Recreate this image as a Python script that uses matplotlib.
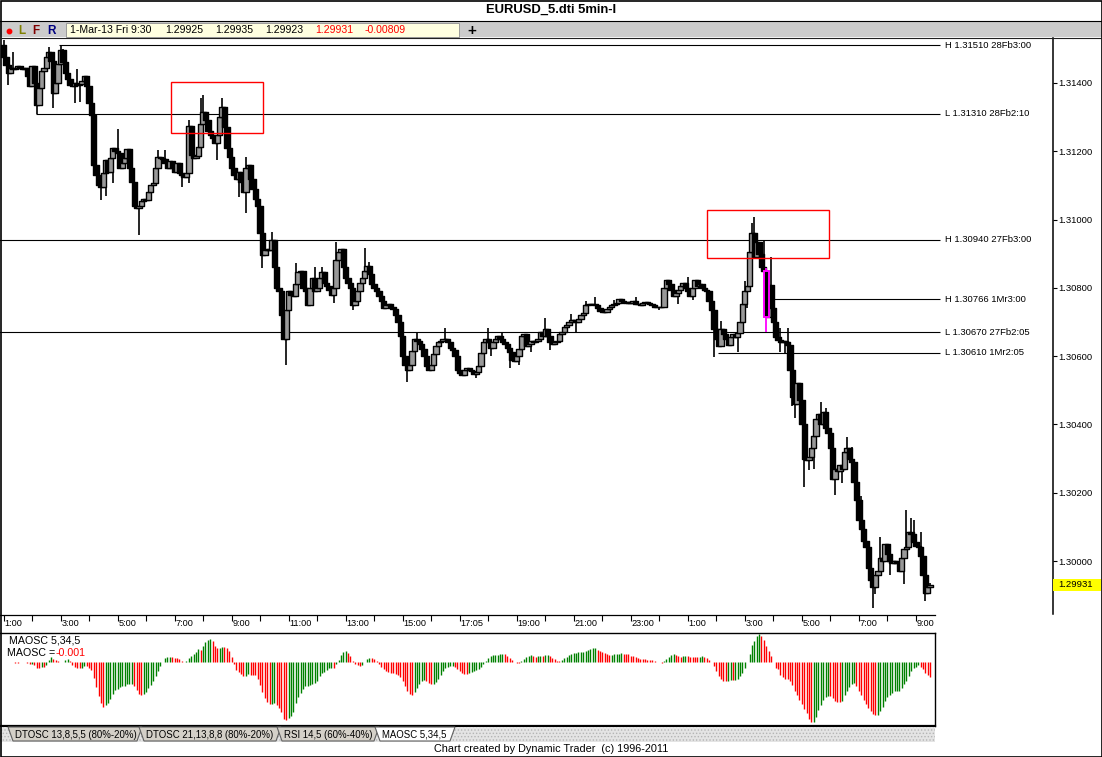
import numpy as np
import pandas as pd
import matplotlib
matplotlib.use("Agg")
import matplotlib.pyplot as plt
from matplotlib.patches import Rectangle, Polygon
from matplotlib.collections import LineCollection, PatchCollection
from matplotlib.ticker import FormatStrFormatter
import matplotlib.transforms as mtransforms

plt.rcParams['font.family'] = ['Liberation Sans', 'DejaVu Sans']
plt.rcParams['hatch.linewidth'] = 0.6

# ---- chart data ---------------------------------------------------------
# EURUSD 5 min closes in points above 1.30000 (1 pt = 0.00001),
# one row per hour, 28-Feb 1:00 .. 1-Mar 9:30
close_pts = [
    1476, 1452, 1430, 1443, 1440, 1445, 1450, 1445, 1440, 1445, 1420, 1390,  # 1:00
    1450, 1400, 1335, 1385, 1435, 1445, 1475, 1490, 1465, 1370, 1400, 1455,  # 2:00
    1495, 1460, 1430, 1410, 1395, 1390, 1400, 1395, 1398, 1405, 1420, 1390,  # 3:00
    1340, 1305, 1160, 1130, 1100, 1095, 1135, 1175, 1140, 1180, 1210, 1200,  # 4:00
    1195, 1150, 1165, 1180, 1205, 1150, 1110, 1040, 1035, 1040, 1055, 1060,  # 5:00
    1058, 1080, 1100, 1107, 1150, 1183, 1180, 1178, 1165, 1150, 1170, 1150,  # 6:00
    1140, 1165, 1136, 1130, 1124, 1136, 1274, 1190, 1180, 1185, 1212, 1280,  # 7:00
    1315, 1290, 1260, 1247, 1240, 1224, 1247, 1300, 1330, 1270, 1210, 1183,  # 8:00
    1150, 1130, 1120, 1140, 1110, 1080, 1150, 1160, 1120, 1090, 1060, 1040,  # 9:00
    960, 895, 910, 915, 912, 940, 860, 800, 790, 720, 650, 735,              # 10:00
    790, 780, 775, 810, 845, 850, 800, 790, 750, 800, 830, 790,              # 11:00
    800, 830, 845, 815, 805, 795, 780, 800, 880, 905, 915, 860,              # 12:00
    830, 815, 800, 750, 760, 790, 815, 830, 850, 865, 840, 810,              # 13:00
    800, 790, 775, 760, 740, 750, 752, 745, 738, 720, 700, 660,              # 14:00
    600, 575, 560, 575, 615, 650, 645, 635, 620, 600, 570, 560,              # 15:00
    575, 605, 630, 640, 645, 650, 650, 640, 625, 618, 600, 560,              # 16:00
    550, 545, 560, 565, 560, 555, 548, 552, 570, 610, 640, 650,              # 17:00
    640, 625, 640, 650, 660, 650, 640, 635, 625, 612, 590, 585,              # 18:00
    600, 620, 660, 665, 630, 635, 645, 640, 645, 650, 670, 660,              # 19:00
    680, 660, 640, 635, 640, 645, 665, 672, 685, 690, 700, 705,              # 20:00
    705, 700, 710, 720, 725, 750, 752, 752, 752, 750, 740, 732,              # 21:00
    728, 730, 738, 745, 750, 752, 755, 768, 762, 758, 755, 758,              # 22:00
    755, 760, 752, 752, 750, 755, 758, 755, 752, 750, 745, 744,              # 23:00
    744, 745, 800, 823, 810, 795, 775, 785, 795, 805, 814, 800,              # 0:00
    790, 776, 800, 823, 805, 810, 800, 795, 790, 760, 735, 680,              # 1:00
    650, 630, 680, 665, 650, 632, 655, 665, 655, 667, 700, 752,              # 2:00
    790, 805, 905, 960, 890, 935, 900, 860, 849, 714, 808, 741,              # 3:00
    700, 656, 647, 640, 645, 640, 632, 560, 480, 460, 520, 470,              # 4:00
    400, 300, 295, 305, 330, 365, 415, 430, 400, 435, 390, 375,              # 5:00
    330, 240, 270, 265, 280, 270, 320, 330, 300, 290, 230, 180,              # 6:00
    120, 95, 60, 40, -20, -56, -75, -40, -30, 10, 0, 50,                     # 7:00
    20, 0, -5, 0, -5, -30, 10, 35, 40, 85, 80, 55,                           # 8:00
    45, 40, 15, -40, -94, -75, -69,                                          # 9:00
]
first_open = 1510

# visible wick extremes (points), bar index -> value
high_pts = {0: 1525, 4: 1490, 19: 1506, 24: 1510, 25: 1500, 31: 1440, 48: 1265,
            65: 1203, 68: 1203, 78: 1292, 83: 1356, 84: 1364, 92: 1356, 102: 1183,
            113: 963, 123: 872, 131: 860, 134: 860, 140: 934, 152: 916, 154: 877,
            174: 667, 186: 682, 204: 682, 210: 672, 228: 711, 239: 723, 245: 762,
            249: 773, 257: 764, 266: 773, 288: 832, 302: 703, 312: 821, 315: 990,
            316: 1007, 320: 940, 321: 859, 323: 890, 327: 682, 330: 682, 344: 466,
            346: 447, 355: 363, 357: 335, 361: 190, 369: 70, 370: 18, 380: 149,
            382: 126, 383: 120, 386: 85, 390: -65}
low_pts = {2: 1394, 14: 1310, 21: 1326, 30: 1340, 32: 1345, 41: 1057, 43: 1070,
           46: 1107, 57: 955, 75: 1095, 78: 1107, 90: 1174, 99: 1066, 102: 1019,
           109: 858, 119: 574, 139: 755, 147: 735, 170: 524, 199: 536, 205: 600,
           213: 565, 217: 574, 222: 612, 230: 618, 241: 670, 276: 735, 284: 752,
           290: 764, 299: 598, 309: 612, 313: 740, 321: 670, 327: 612, 329: 605,
           332: 453, 333: 420, 337: 217, 339: 267, 341: 270, 350: 193, 353: 228,
           366: -138, 367: -98, 373: -40, 379: -68, 388: -116, 390: -77}

time_labels = ['1:00', '3:00', '5:00', '7:00', '9:00', '11:00', '13:00', '15:00',
               '17:05', '19:00', '21:00', '23:00', '1:00', '3:00', '5:00', '7:00', '9:00']

level_prices = [1.31510, 1.31310, 1.30940, 1.30766, 1.30670, 1.30610]
level_names = ['H 1.31510 28Fb3:00', 'L 1.31310 28Fb2:10', 'H 1.30940 27Fb3:00',
               'H 1.30766 1Mr3:00', 'L 1.30670 27Fb2:05', 'L 1.30610 1Mr2:05']
level_from = [23.5, 13.7, -2.0, 321.7, -2.0, 300.7]

box_bars = [(70.6, 109.1), (296.2, 347.3)]
box_prices = [(1.31252, 1.31402), (1.30886, 1.31028)]
marked_bar = 321
last_price = 1.29931
price_ticks = [1.30000, 1.30200, 1.30400, 1.30600, 1.30800, 1.31000, 1.31200, 1.31400]

header_date = '1-Mar-13 Fri 9:30'
header_ohl = ['1.29925', '1.29935', '1.29923']
header_red = ['1.29931', '-0.00809']
tab_names = ['DTOSC 13,8,5,5 (80%-20%)', 'DTOSC 21,13,8,8 (80%-20%)',
             'RSI 14,5 (60%-40%)', 'MAOSC 5,34,5']

# ---- layout (pixels) ----------------------------------------------------
W, H = 1102, 757
BAR_PX, BAR0_PX = 2.376, 3.5
PRICE_PX, Y_130 = 34150.0, 561.0


def bar_at(px):
    return (px - BAR0_PX) / BAR_PX


def price_at(py):
    return 1.30 + (Y_130 - py) / PRICE_PX


def fig_rect(x0, y0, x1, y1):
    return [x0 / W, 1 - y1 / H, (x1 - x0) / W, (y1 - y0) / H]


n = len(close_pts)
idx = np.arange(n)
close = np.array(close_pts, dtype=float)
opn = np.r_[first_open, close[:-1]]
high = np.array([max(opn[i], close[i], high_pts.get(i, -1e9)) for i in idx])
low = np.array([min(opn[i], close[i], low_pts.get(i, 1e9)) for i in idx])

to_price = lambda v: 1.30 + np.asarray(v) / 1e5

fig = plt.figure(figsize=(W / 100, H / 100), dpi=100)
fig.patch.set_facecolor('white')

# ---- price panel ----
ax = fig.add_axes(fig_rect(0, 38, 1053, 614))
ax.set_xlim(bar_at(0), bar_at(1053))
ax.set_ylim(price_at(614), price_at(38))
for s in ['left', 'top', 'bottom']:
    ax.spines[s].set_visible(False)
ax.spines['right'].set_linewidth(1.1)
ax.set_xticks([])
ax.yaxis.tick_right()
ax.set_yticks(price_ticks)
ax.yaxis.set_major_formatter(FormatStrFormatter('%.5f'))
ax.tick_params(axis='y', direction='out', length=3, width=0.8, pad=0.6, labelsize=6.8)

ax.hlines(level_prices, level_from, bar_at(940), colors='black', lw=0.8, zorder=1)
for p, name in zip(level_prices, level_names):
    ax.text(bar_at(945), p, name, va='center', ha='left', fontsize=6.8)

BODY_W = 2.25
segs, rects, faces = [], [], []
for i in idx:
    if i == marked_bar:
        continue
    if high[i] > low[i]:
        segs.append([(i, to_price(low[i])), (i, to_price(high[i]))])
    b0 = to_price(min(opn[i], close[i]))
    b1 = to_price(max(opn[i], close[i]))
    rects.append(Rectangle((i - BODY_W / 2, b0), BODY_W, b1 - b0))
    faces.append('#999999' if close[i] > opn[i] else 'black')
ax.add_collection(LineCollection(segs, colors='black', linewidths=1.2, zorder=2))
ax.add_collection(PatchCollection(rects, facecolors=faces, edgecolors='black',
                                  linewidths=1.0, zorder=3))

m = marked_bar
ax.vlines(m, to_price(low[m]), to_price(high[m]), colors='#ff00ff', lw=1.3, zorder=4)
ax.add_patch(Rectangle((m - BODY_W / 2, to_price(close[m])), BODY_W,
                       to_price(opn[m]) - to_price(close[m]),
                       fc='black', ec='#ff00ff', lw=1.4, zorder=5))

for (b0, b1), (p0, p1) in zip(box_bars, box_prices):
    ax.add_patch(Rectangle((b0, p0), b1 - b0, p1 - p0, fill=False, ec='red', lw=1.0, zorder=6))

trans = mtransforms.blended_transform_factory(ax.transAxes, ax.transData)
tag_h = 12 / PRICE_PX
ax.add_patch(Rectangle((1.0, last_price - tag_h / 2), 48 / 1053, tag_h, transform=trans,
                       fc='#ffff00', ec='none', clip_on=False, zorder=6))
ax.text(1.0 + 5 / 1053, last_price, '%.5f' % last_price, transform=trans,
        va='center', ha='left', fontsize=6.8, zorder=7)

# ---- time scale ----
tax = fig.add_axes(fig_rect(0, 615, 935, 633))
tax.set_xlim(bar_at(0), bar_at(935))
tax.set_ylim(0, 1)
for s in ['left', 'right', 'bottom']:
    tax.spines[s].set_visible(False)
tax.spines['top'].set_linewidth(0.9)
tax.xaxis.tick_top()
tax.set_xticks(np.arange(0, n, 12))
tax.tick_params(axis='x', direction='in', length=4, width=0.8, labeltop=False)
tax.set_yticks([])
for k, lab in enumerate(time_labels):
    tax.text(24 * k + 0.4, 0.5, lab, va='center', ha='left', fontsize=6.6)

# ---- MAOSC panel ----
pax = fig.add_axes(fig_rect(0, 633, 935, 726))
pax.set_xlim(bar_at(0), bar_at(935))
s = pd.Series(close) / 1e5
maosc = (s.rolling(5, min_periods=1).mean() - s.rolling(34, min_periods=1).mean()).values
rising = np.r_[True, np.diff(maosc) >= 0]
pax.vlines(idx, 0, maosc, colors=np.where(rising, '#008000', '#ff0000'), lw=1.0)
bottom = maosc.min() * 1.06
top = max(-bottom * 28.7 / 64.3, maosc.max() * 1.02)
pax.set_ylim(bottom, top)
pax.set_xticks([])
pax.set_yticks([])
pax.spines['left'].set_visible(False)
pax.spines['top'].set_linewidth(1.0)
pax.spines['right'].set_linewidth(1.0)
pax.spines['bottom'].set_linewidth(1.6)

# ---- window chrome ----
cax = fig.add_axes([0, 0, 1, 1], zorder=10)
cax.set_xlim(0, W)
cax.set_ylim(H, 0)
cax.axis('off')
cax.patch.set_alpha(0)

cax.text(551, 10, 'EURUSD_5.dti 5min-I', ha='center', va='center', fontsize=9.4,
         fontweight='bold')
cax.add_patch(Rectangle((0, 21), W, 16, fc='#cccccc', ec='none'))
cax.plot([0, W], [20.5, 20.5], color='black', lw=0.8)
cax.plot([0, W], [37.5, 37.5], color='#202020', lw=0.8)
cax.add_patch(Rectangle((66, 22.5), 393, 14, fc='#ffffe0', ec='#9a9a9a', lw=0.7))
cax.plot([9], [31], 'o', color='red', ms=3.2)
for x, ch, col in [(22, 'L', '#808000'), (36, 'F', '#800000'), (51, 'R', '#000080')]:
    cax.text(x, 30.5, ch, ha='center', va='center', fontsize=8.5, fontweight='bold', color=col)
cax.text(70, 30, header_date, va='center', ha='left', fontsize=7.6)
for x, t in zip([165, 215, 265], header_ohl):
    cax.text(x, 30, t, va='center', ha='left', fontsize=7.6)
for x, t in zip([315, 365], header_red):
    cax.text(x, 30, t, va='center', ha='left', fontsize=7.6, color='red')
cax.text(472, 30.5, '+', ha='center', va='center', fontsize=11, fontweight='bold')

cax.text(9, 640.5, 'MAOSC 5,34,5', va='center', ha='left', fontsize=7.7)
cax.text(7, 653.5, 'MAOSC =', va='center', ha='left', fontsize=7.7)
cax.text(56, 653.5, '-0.001', va='center', ha='left', fontsize=7.7, color='red')

cax.add_patch(Rectangle((0, 727), 935, 15, fc='#e4e4e4', ec='#b4b4b4', lw=0, hatch='.....'))
tab_x = [(8, 142), (139, 281), (277, 379), (375, 455)]
for k in [0, 1, 2, 3]:
    x0, x1 = tab_x[k]
    active = k == 3
    cax.add_patch(Polygon([(x0, 727), (x1, 727), (x1 - 5, 741), (x0 + 5, 741)],
                          closed=True, fc='white' if active else '#d4d0c8',
                          ec='#606060', lw=0.8, zorder=3 if active else 2))
    cax.text(x0 + 7, 734.5, tab_names[k], va='center', ha='left', fontsize=6.9, zorder=4)

cax.text(551, 748.5, 'Chart created by Dynamic Trader  (c) 1996-2011', ha='center',
         va='center', fontsize=7.8)
cax.add_patch(Rectangle((0.5, 0.5), W - 1, H - 1, fill=False, ec='black', lw=1.2))

fig.savefig('out.png', dpi=100)
plt.close(fig)
